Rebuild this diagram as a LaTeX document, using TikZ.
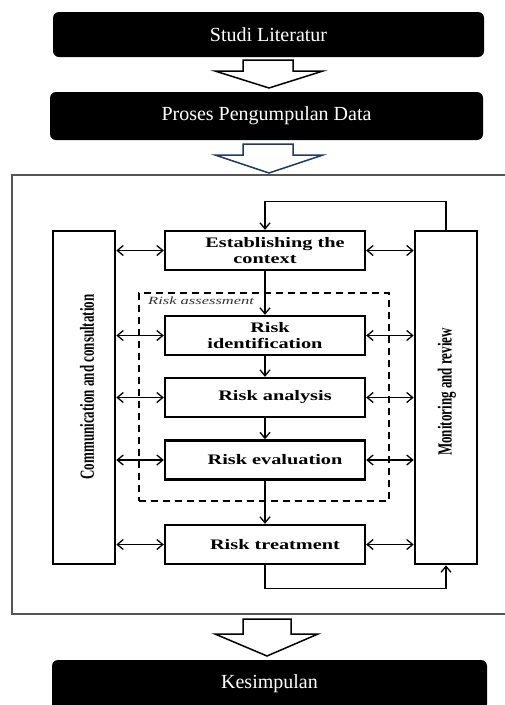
\documentclass[tikz,border=0pt]{standalone}
\usepackage{fontspec}
\setmainfont{Liberation Serif}
\newfontfamily\boxfont[FakeStretch=1.4]{Liberation Serif}
\newfontfamily\colfont[FakeStretch=0.65]{Liberation Serif}
\newfontfamily\wideit[FakeStretch=1.5]{Liberation Serif}
\usetikzlibrary{arrows.meta}
\definecolor{navy}{HTML}{1F3864}
\definecolor{framegray}{HTML}{555555}
\definecolor{labgray}{HTML}{333333}
\begin{document}
\begin{tikzpicture}[x=1pt,y=-1pt,
  blackbox/.style={fill=black, rounded corners=6pt, text=white, inner sep=0pt,
    font=\fontsize{20}{24}\selectfont},
  stepbox/.style={draw, line width=2.4pt, fill=white, minimum width=200pt,
    minimum height=39pt, inner sep=0pt, align=center,
    font=\boxfont\bfseries\fontsize{14.5}{16.5}\selectfont},
  colbox/.style={draw, line width=2.6pt, fill=white, minimum width=62pt,
    minimum height=333pt, inner sep=0pt},
  coltext/.style={rotate=90, inner sep=0pt, font=\colfont\bfseries\fontsize{20}{22}\selectfont},
  tipb/.tip={Straight Barb[length=6pt,width=10pt,line width=1.3pt]},
  link/.style={line width=1.3pt, tipb-tipb},
  flow/.style={line width=1.3pt, -tipb},
  blockarrow/.style={draw, line width=1.5pt, fill=white, line join=miter},
  dashbox/.style={draw, line width=1.4pt, dash pattern=on 7pt off 5pt,
    minimum width=250pt, minimum height=208pt, inner sep=0pt}
]
\useasboundingbox (0,0) rectangle (505,705);

% top black boxes
\node[blackbox, minimum width=431pt, minimum height=45pt] (s1) at (268.5,34.5) {Studi Literatur};
\node[blackbox, minimum width=433pt, minimum height=48pt] (s2) at (266.5,116) {Proses Pengumpulan Data};

% block arrows
\draw[blockarrow] (243,60) -- (293,60) -- (293,71) -- (323,71) -- (269,88) -- (215,71) -- (243,71) -- cycle;
\draw[blockarrow, draw=navy] (243,144) -- (293,144) -- (293,155) -- (323,155) -- (269,173) -- (215,155) -- (243,155) -- cycle;

% frame
\draw[framegray, line width=1.2pt] (530,175) -- (12,175) -- (12,614) -- (530,614);

% risk assessment dashed box
\node[dashbox] (ra) at (264,397) {};
\node[anchor=west, inner sep=0pt, text=labgray, font=\wideit\itshape\fontsize{11}{12}\selectfont] (ralab) at (148,301) {Risk assessment};

% side columns
\node[colbox] (lcol) at (84,397.5) {};
\node[coltext] (ltxt) at (87,387) {Communication and consultation};
\node[colbox] (rcol) at (446,397.5) {};
\node[coltext] (rtxt) at (447,392) {Monitoring and review};

% step boxes
\node[stepbox] (est) at (265,250.5) {\hspace*{20pt}Establishing the\\context};
\node[stepbox] (rid) at (265,335.5) {\hspace*{10pt}Risk\\identification};
\node[stepbox] (ran) at (265,397.5) {\hspace*{20pt}Risk analysis};
\node[stepbox] (rev) at (265,460) {\hspace*{20pt}Risk evaluation};
\node[stepbox] (rtr) at (265,544.5) {\hspace*{20pt}Risk treatment};

% vertical flow
\draw[flow] (est.south) -- (rid.north);
\draw[flow] (rid.south) -- (ran.north);
\draw[flow] (ran.south) -- (rev.north);
\draw[flow] (rev.south) -- (rtr.north);

% feedback loops
\draw[flow] (rcol.north) -- ++(0,-28) -| (est.north);
\draw[flow] (rtr.south) -- ++(0,23) -| (rcol.south);

% double links
\foreach \b in {est,rid,ran,rev,rtr}{
  \draw[link] (lcol.east |- \b.west) -- (\b.west);
  \draw[link] (\b.east) -- (rcol.west |- \b.east);
}

% bottom arrow and box
\draw[blockarrow] (243,619) -- (291,619) -- (291,634) -- (318,634) -- (267,656) -- (215,634) -- (243,634) -- cycle;
\node[blackbox, minimum width=435pt, minimum height=50pt] (s3) at (269.5,685) {};
\node[text=white, inner sep=0pt, font=\fontsize{20}{24}\selectfont] (s3t) at (269.5,684) {Kesimpulan};
\end{tikzpicture}
\end{document}
